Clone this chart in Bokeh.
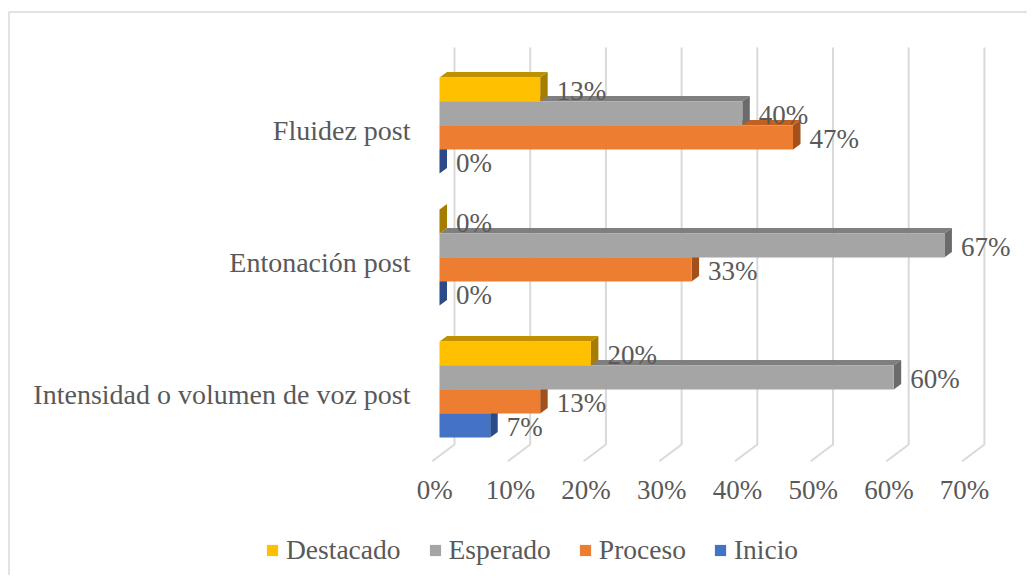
from bokeh.plotting import figure
from bokeh.models import Range1d, Legend, LegendItem, ColumnDataSource
from bokeh.embed import file_html
from bokeh.resources import INLINE
from bokeh.core.properties import value

# ---------------- data ----------------
categories = ["Intensidad o volumen de voz post", "Entonación post", "Fluidez post"]
series = ["Destacado", "Esperado", "Proceso", "Inicio"]
destacado = [20.0, 0.0, 13.3]
esperado = [60.0, 66.7, 40.0]
proceso = [13.3, 33.3, 46.7]
inicio = [6.7, 0.0, 0.0]
x_ticks = [0, 10, 20, 30, 40, 50, 60, 70]
tick_labels = ["0%", "10%", "20%", "30%", "40%", "50%", "60%", "70%"]

series_values = {"Destacado": destacado, "Esperado": esperado,
                 "Proceso": proceso, "Inicio": inicio}

# ---------------- style ----------------
front_col = {"Destacado": "#FFC000", "Esperado": "#A5A5A5",
             "Proceso": "#ED7D31", "Inicio": "#4472C4"}
top_col = {"Destacado": "#BF9000", "Esperado": "#7F7F7F",
           "Proceso": "#C2611F", "Inicio": "#30549A"}
side_col = {"Destacado": "#A67D00", "Esperado": "#6B6B6B",
            "Proceso": "#A3501A", "Inicio": "#2A4A88"}
TEXT = "#595959"
GRID = "#D9D9D9"
FONT = value("Liberation Serif")
FS_CAT = "28px"
FS_TICK = "27px"
FS_LAB = "27px"
FS_LEG = "27.5px"

# ---------------- layout (pixel geometry) ----------------
W, H = 1027, 575
PX_PER_PCT = 7.57      # horizontal pixels per percentage point
X0_PX = 439            # canvas x of 0 % on the bar front face
CAT_PX = 132           # pixels between category centres
Y0_PX = 389            # canvas y of first category centre


def cx(c):
    return (c - X0_PX) / PX_PER_PCT


def cy(c):
    return (Y0_PX - c) / CAT_PX


def dxp(n):
    return n / PX_PER_PCT


def dyp(n):
    return n / CAT_PX


p = figure(width=W, height=H, output_backend="svg", toolbar_location=None,
           x_range=Range1d(cx(0), cx(W)), y_range=Range1d(cy(H), cy(0)),
           x_axis_location=None, y_axis_location=None, min_border=0,
           background_fill_color="white", border_fill_color="white")
p.grid.visible = False
p.outline_line_color = None

# chart border (top and left visible)
p.line(x=[cx(8.5), cx(8.5), cx(W)], y=[cy(H), cy(11.5), cy(11.5)],
       line_color=GRID, line_width=1.5)

# 3D gridlines: floor diagonal + back wall vertical
FLOOR_FRONT_DX, BACK_DX = -7.3, 15.0
gx, gy = [], []
for t in x_ticks:
    gx.append([t + dxp(FLOOR_FRONT_DX), t + dxp(BACK_DX), t + dxp(BACK_DX)])
    gy.append([cy(460.7), cy(444), cy(47)])
p.multi_line(xs=gx, ys=gy, line_color=GRID, line_width=2)

# tick labels
p.text(x=[t + dxp(FLOOR_FRONT_DX + 2.5) for t in x_ticks], y=[cy(489)] * len(x_ticks),
       text=tick_labels, text_font=FONT, text_font_size=FS_TICK, text_color=TEXT,
       text_align="center", text_baseline="middle")

# category labels
p.text(x=[cx(410)] * len(categories), y=[i - dyp(5) for i in range(len(categories))],
       text=categories, text_font=FONT, text_font_size=FS_CAT, text_color=TEXT,
       text_align="right", text_baseline="middle")

# bars
BAR_H = dyp(24)
DX, DY = dxp(7.5), dyp(5.6)
front_r = {}
for k in reversed(range(len(series))):
    s = series[k]
    vals = series_values[s]
    ys = [i + (1.5 - k) * BAR_H for i in range(len(categories))]
    tx, ty, sx, sy = [], [], [], []
    for v, yc in zip(vals, ys):
        yt, yb = yc + BAR_H / 2, yc - BAR_H / 2
        tx.append([0, v, v + DX, DX])
        ty.append([yt, yt, yt + DY, yt + DY])
        sx.append([v, v, v + DX, v + DX])
        sy.append([yb, yt, yt + DY, yb + DY])
    p.patches(xs=tx, ys=ty, fill_color=top_col[s], line_color=None)
    p.patches(xs=sx, ys=sy, fill_color=side_col[s], line_color=None)
    src = ColumnDataSource(dict(y=ys, right=vals))
    front_r[s] = p.hbar(y="y", left=0, right="right", height=BAR_H, source=src,
                        fill_color=front_col[s], line_color=None)
    p.text(x=[v + DX + dxp(9) for v in vals], y=[yc - dyp(1) for yc in ys],
           text=[f"{round(v)}%" for v in vals], text_font=FONT, text_font_size=FS_LAB,
           text_color=TEXT, text_align="left", text_baseline="middle")

legend = Legend(items=[LegendItem(label=s, renderers=[front_r[s]]) for s in series],
                orientation="horizontal", location=(265, 9),
                glyph_width=14, glyph_height=14, label_standoff=7, spacing=27,
                padding=0, margin=0, border_line_color=None,
                background_fill_alpha=0, label_text_font="Liberation Serif",
                label_text_font_size=FS_LEG, label_text_color=TEXT)
p.add_layout(legend)

open("out.html", "w").write(file_html(p, INLINE))
